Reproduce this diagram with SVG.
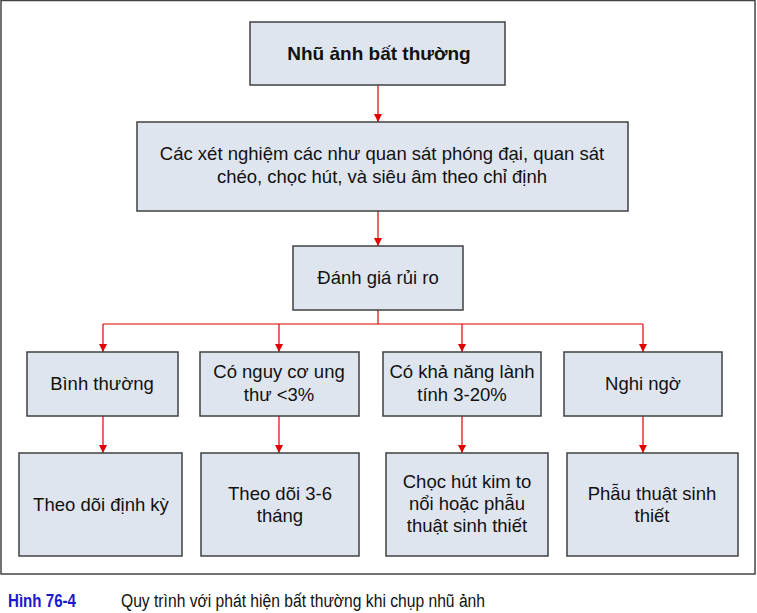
<svg xmlns="http://www.w3.org/2000/svg" width="757" height="613" viewBox="0 0 757 613">
<style>
.box{fill:#dfe5ef;stroke:#404040;stroke-width:1.5}
.t{font-family:"Liberation Sans",Arial,sans-serif;font-size:18.5px;fill:#111;text-anchor:middle}
.b{font-weight:bold}
.h{font-size:19px}
.c{stroke:#e00000;stroke-width:1.2;fill:none}
.cap{font-family:"Liberation Sans",Arial,sans-serif;font-size:18px}
</style>
<defs>
<marker id="ah" viewBox="0 0 10 10" refX="10" refY="5" markerWidth="8" markerHeight="8" markerUnits="userSpaceOnUse" orient="auto">
<path d="M0,0 L10,5 L0,10 z" fill="#e00000"/>
</marker>
</defs>
<rect x="1" y="0.5" width="754" height="573.5" fill="#fff" stroke="#444" stroke-width="1.5"/>
<g id="connectors">
<line class="c" x1="378" y1="85" x2="378" y2="122" marker-end="url(#ah)"/>
<line class="c" x1="378" y1="211" x2="378" y2="246" marker-end="url(#ah)"/>
<polyline class="c" points="378,310 378,324"/>
<polyline class="c" points="103,324 643,324"/>
<line class="c" x1="103" y1="324" x2="103" y2="352" marker-end="url(#ah)"/>
<line class="c" x1="279" y1="324" x2="279" y2="352" marker-end="url(#ah)"/>
<line class="c" x1="462" y1="324" x2="462" y2="352" marker-end="url(#ah)"/>
<line class="c" x1="643" y1="324" x2="643" y2="352" marker-end="url(#ah)"/>
<line class="c" x1="103" y1="416" x2="103" y2="453" marker-end="url(#ah)"/>
<line class="c" x1="279" y1="416" x2="279" y2="453" marker-end="url(#ah)"/>
<line class="c" x1="462" y1="416" x2="462" y2="453" marker-end="url(#ah)"/>
<line class="c" x1="643" y1="416" x2="643" y2="453" marker-end="url(#ah)"/>
</g>
<g id="n1"><rect class="box" x="250" y="22" width="255" height="63"/><text class="t b h" x="379" y="60">Nhũ ảnh bất thường</text></g>
<g id="n2"><rect class="box" x="137" y="122" width="491" height="89"/><text class="t" x="382" y="160">Các xét nghiệm các như quan sát phóng đại, quan sát</text><text class="t" x="382" y="183">chéo, chọc hút, và siêu âm theo chỉ định</text></g>
<g id="n3"><rect class="box" x="293" y="246" width="170" height="64"/><text class="t" x="378" y="284">Đánh giá rủi ro</text></g>
<g id="n4"><rect class="box" x="27" y="352" width="151" height="64"/><text class="t" x="102" y="390">Bình thường</text></g>
<g id="n5"><rect class="box" x="200" y="352" width="159" height="64"/><text class="t" x="279" y="378">Có nguy cơ ung</text><text class="t" x="279" y="401">thư &lt;3%</text></g>
<g id="n6"><rect class="box" x="383" y="352" width="158" height="64"/><text class="t" x="462" y="378">Có khả năng lành</text><text class="t" x="462" y="401">tính 3-20%</text></g>
<g id="n7"><rect class="box" x="564" y="352" width="158" height="64"/><text class="t" x="643" y="390">Nghi ngờ</text></g>
<g id="n8"><rect class="box" x="19" y="453" width="163" height="103"/><text class="t" x="101" y="511">Theo dõi định kỳ</text></g>
<g id="n9"><rect class="box" x="201" y="453" width="158" height="103"/><text class="t" x="280" y="500">Theo dõi 3-6</text><text class="t" x="280" y="522">tháng</text></g>
<g id="n10"><rect class="box" x="386" y="453" width="162" height="103"/><text class="t" x="467" y="488">Chọc hút kim to</text><text class="t" x="467" y="510">nổi hoặc phẫu</text><text class="t" x="467" y="532">thuật sinh thiết</text></g>
<g id="n11"><rect class="box" x="567" y="453" width="171" height="103"/><text class="t" x="652" y="500">Phẫu thuật sinh</text><text class="t" x="652" y="522">thiết</text></g>
<text class="cap b" x="8" y="607" fill="#1a1acc" textLength="68" lengthAdjust="spacingAndGlyphs">Hình 76-4</text>
<text class="cap" x="121" y="607" fill="#111" textLength="364" lengthAdjust="spacingAndGlyphs">Quy trình với phát hiện bất thường khi chụp nhũ ảnh</text>
</svg>
